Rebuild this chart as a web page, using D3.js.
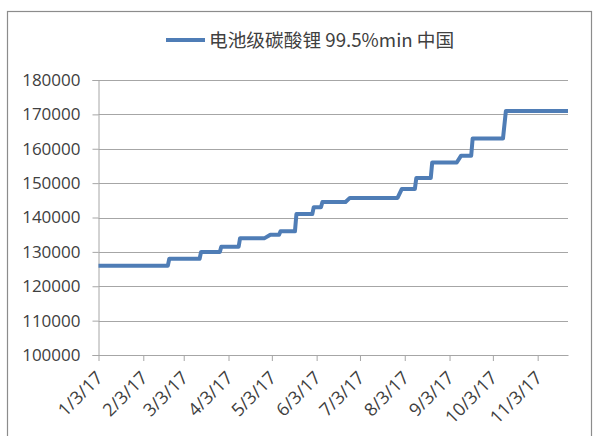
<!DOCTYPE html>
<html>
<head>
<meta charset="utf-8">
<script src="https://cdn.jsdelivr.net/npm/d3@7/dist/d3.min.js"></script>
<style>
  html, body { margin: 0; padding: 0; background: #fff; }
  svg { display: block; }
</style>
</head>
<body>
<svg id="chart" width="601" height="436"></svg>
<script>
// Series name shown in the legend
const seriesName = "电池级碳酸锂 99.5%min 中国";

// Price observations (yuan/t): dates of each level change and the price there
const dates = [
  "2017-01-03", "2017-02-20", "2017-02-21", "2017-03-14", "2017-03-15",
  "2017-03-28", "2017-03-29", "2017-04-10", "2017-04-11", "2017-04-28",
  "2017-05-02", "2017-05-08", "2017-05-09", "2017-05-19", "2017-05-20",
  "2017-05-31", "2017-06-01", "2017-06-06", "2017-06-07", "2017-06-23",
  "2017-06-26", "2017-07-29", "2017-08-01", "2017-08-10", "2017-08-11",
  "2017-08-21", "2017-08-22", "2017-09-08", "2017-09-11", "2017-09-18",
  "2017-09-19", "2017-10-10", "2017-10-12", "2017-11-24"
];
const prices = [
  126000, 126000, 128000, 128000, 130000,
  130000, 131500, 131500, 134000, 134000,
  135000, 135000, 136000, 136000, 141000,
  141000, 143000, 143000, 144500, 144500,
  145700, 145700, 148300, 148300, 151500,
  151500, 156000, 156000, 158000, 158000,
  163000, 163000, 171000, 171000
];

// Axis ticks
const xTickDates = [
  "2017-01-03", "2017-02-03", "2017-03-03", "2017-04-03", "2017-05-03",
  "2017-06-03", "2017-07-03", "2017-08-03", "2017-09-03", "2017-10-03", "2017-11-03"
];
const yTicks = [100000, 110000, 120000, 130000, 140000, 150000, 160000, 170000, 180000];

const parse = d3.timeParse("%Y-%m-%d");
const fmtX = d => `${d.getMonth() + 1}/${d.getDate()}/${String(d.getFullYear()).slice(2)}`;

const data = dates.map((d, i) => ({ date: parse(d), value: prices[i] }));

const svg = d3.select("#chart");
const lineColor = "#4f7db6";
const gridColor = "#a6a6a6";
const textColor = "#404040";

// Outer chart frame
svg.append("rect")
  .attr("x", 7.5).attr("y", 11.5)
  .attr("width", 584).attr("height", 440)
  .attr("fill", "none").attr("stroke", "#8c8c8c").attr("stroke-width", 1.2);

const plot = { left: 98.5, right: 568, top: 80, bottom: 355 };

const x = d3.scaleTime()
  .domain([parse(dates[0]), parse(dates[dates.length - 1])])
  .range([plot.left, plot.right]);
const y = d3.scaleLinear()
  .domain([100000, 180000])
  .range([plot.bottom, plot.top]);

// Horizontal gridlines
svg.append("g")
  .selectAll("line")
  .data(yTicks.slice(1))
  .join("line")
  .attr("x1", plot.left).attr("x2", plot.right)
  .attr("y1", d => Math.round(y(d)) + 0.5).attr("y2", d => Math.round(y(d)) + 0.5)
  .attr("stroke", gridColor).attr("stroke-width", 1);

// Y axis
const yAxis = svg.append("g")
  .attr("transform", `translate(${plot.left},0)`)
  .call(d3.axisLeft(y).tickValues(yTicks).tickFormat(d3.format("d")).tickSize(6).tickPadding(12));
yAxis.select(".domain").attr("stroke", gridColor);
yAxis.selectAll(".tick line").attr("stroke", gridColor);
yAxis.selectAll(".tick text")
  .attr("font-family", "'Open Sans', sans-serif")
  .attr("font-size", 17).attr("fill", textColor);

// X axis
const xAxis = svg.append("g")
  .attr("transform", `translate(0,${plot.bottom})`)
  .call(d3.axisBottom(x).tickValues(xTickDates.map(parse)).tickFormat(fmtX).tickSize(6).tickSizeOuter(0));
xAxis.select(".domain").attr("stroke", gridColor);
xAxis.selectAll(".tick line").attr("stroke", gridColor);
xAxis.selectAll(".tick text")
  .attr("font-family", "'Open Sans', sans-serif")
  .attr("font-size", 18).attr("fill", textColor)
  .attr("text-anchor", "end")
  .attr("dy", null)
  .attr("y", 0)
  .attr("transform", "translate(5,24) rotate(-45)");

// Price line
svg.append("path")
  .datum(data)
  .attr("fill", "none")
  .attr("stroke", lineColor)
  .attr("stroke-width", 4)
  .attr("stroke-linejoin", "round")
  .attr("d", d3.line().x(d => x(d.date)).y(d => y(d.value)));

// Legend
const legend = svg.append("g").attr("transform", "translate(166,40)");
legend.append("line")
  .attr("x1", 0).attr("x2", 39).attr("y1", 0).attr("y2", 0)
  .attr("stroke", lineColor).attr("stroke-width", 4);
legend.append("text")
  .attr("x", 43).attr("y", 7)
  .attr("font-family", "'Noto Sans CJK SC', sans-serif")
  .attr("font-size", 18.7).attr("fill", textColor)
  .text(seriesName);
</script>
</body>
</html>
